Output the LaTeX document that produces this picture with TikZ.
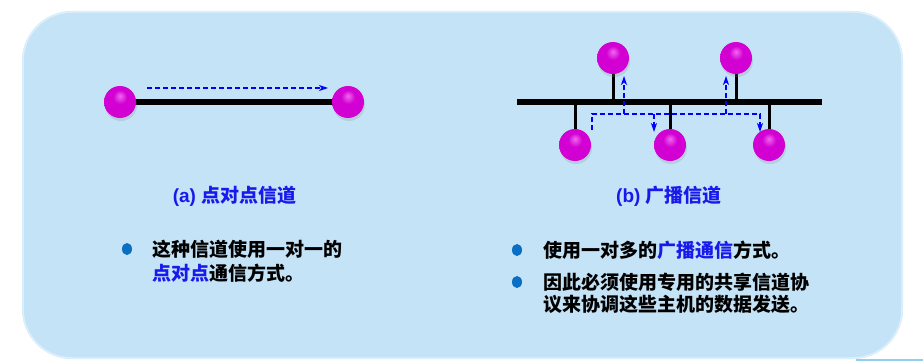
\documentclass[tikz,border=0pt]{standalone}
\usepackage{fontspec}
\setmainfont{Noto Sans CJK SC}
\newfontfamily\latfont{Liberation Sans}
\usetikzlibrary{arrows.meta,shadows,backgrounds,shapes.geometric}
\definecolor{bgblue}{HTML}{C4E3F7}
\definecolor{bgedge}{HTML}{DDF0FC}
\definecolor{titleblue}{RGB}{25,25,235}
\definecolor{bulletblue}{HTML}{0A6FC2}
\definecolor{dashblue}{HTML}{0000FF}
\definecolor{ballhi}{RGB}{240,105,240}
\definecolor{ballmid}{RGB}{210,0,210}
\definecolor{balldark}{RGB}{165,0,170}
\definecolor{cornerline}{HTML}{8FD0F0}
\pgfdeclareradialshading{sphere}{\pgfpoint{0bp}{10bp}}{color(0bp)=(ballhi); color(11bp)=(ballmid); color(28bp)=(ballmid); color(35bp)=(balldark); color(50bp)=(balldark)}
\tikzset{
  ballnode/.style={circle, minimum size=32pt, inner sep=0pt, shading=sphere,
    drop shadow={shadow xshift=1pt, shadow yshift=-3pt, opacity=0.22}},
  thickline/.style={line width=6pt},
  stemline/.style={line width=3pt},
  dashline/.style={dashblue, line width=1.2pt, dash pattern=on 5pt off 3pt},
  tip/.style={-{Stealth[length=9pt,width=6pt,inset=2.5pt]}},
  titletext/.style={inner sep=0pt, font=\bfseries\fontsize{19}{23}\selectfont, text=titleblue},
  bodytext/.style={inner sep=0pt, font=\bfseries\fontsize{19}{23}\selectfont, text=black},
  bul/.style={ellipse, fill=bulletblue, minimum width=10pt, minimum height=12pt, inner sep=0pt},
}
\newcommand{\hlb}[1]{\textcolor{titleblue}{#1}}
\begin{document}
\begin{tikzpicture}[x=1pt,y=-1pt]
\useasboundingbox (0,0) rectangle (923,361);
% balls (main layer)
\node[ballnode] (a1) at (120,102) {};
\node[ballnode] (a2) at (348,102) {};
\node[ballnode] (t1) at (613,58) {};
\node[ballnode] (t2) at (736,58) {};
\node[ballnode] (b1) at (575,145) {};
\node[ballnode] (b2) at (670,145) {};
\node[ballnode] (b3) at (769,145) {};
\coordinate (busL) at (517,102);
\coordinate (busR) at (822,102);
% dashed arrows
\coordinate (ds) at (147,88);
\coordinate (de) at (328,88);
\draw[dashline,tip] (ds) -- (de);
\coordinate (d0) at (592,130);
\coordinate (dj) at (592,114);
\coordinate (dr) at (760,114);
\coordinate (dre) at (760,132);
\coordinate (u1s) at (624,114);
\coordinate (u1e) at (624,76);
\coordinate (dn1s) at (654,114);
\coordinate (dn1e) at (654,132);
\coordinate (u2s) at (726,114);
\coordinate (u2e) at (726,76);
\draw[dashline,tip] (d0) -- (dj) -- (dr) -- (dre);
\draw[dashline,tip] (u1s) -- (u1e);
\draw[dashline,tip] (dn1s) -- (dn1e);
\draw[dashline,tip] (u2s) -- (u2e);
% titles
\node[titletext, anchor=base] (ta) at (234.5,202) {{\latfont (a) }点对点信道};
\node[titletext, anchor=base] (tb) at (669,202) {{\latfont (b) }广播信道};
% left bullet text
\node[bul] (bla) at (127,249) {};
\node[bodytext, anchor=base west] (la1) at (152,256) {这种信道使用一对一的};
\node[bodytext, anchor=base west] (la2) at (152,280) {\hlb{点对点}通信方式。};
% right bullet text
\node[bul] (blb1) at (517,250) {};
\node[bul] (blb2) at (517,282) {};
\node[bodytext, anchor=base west] (lb1) at (543,257) {使用一对多的\hlb{广播通信}方式。};
\node[bodytext, anchor=base west] (lb2) at (543,289) {因此必须使用专用的共享信道协};
\node[bodytext, anchor=base west] (lb3) at (543,311) {议来协调这些主机的数据发送。};
\begin{pgfonlayer}{background}
\fill[bgblue, rounded corners=50pt] (22,11) rectangle (903,359);
\draw[bgedge, line width=1.5pt, rounded corners=49pt] (23,12) rectangle (902,358);
\draw[cornerline, line width=1.5pt] (856,360) -- (923,360);
\draw[thickline] (a1.center) -- (a2.center);
\draw[thickline] (busL) -- (busR);
\draw[stemline] (t1.center) -- (t1.center |- busL);
\draw[stemline] (t2.center) -- (t2.center |- busL);
\draw[stemline] (b1.center) -- (b1.center |- busL);
\draw[stemline] (b2.center) -- (b2.center |- busL);
\draw[stemline] (b3.center) -- (b3.center |- busL);
\end{pgfonlayer}
\end{tikzpicture}
\end{document}
